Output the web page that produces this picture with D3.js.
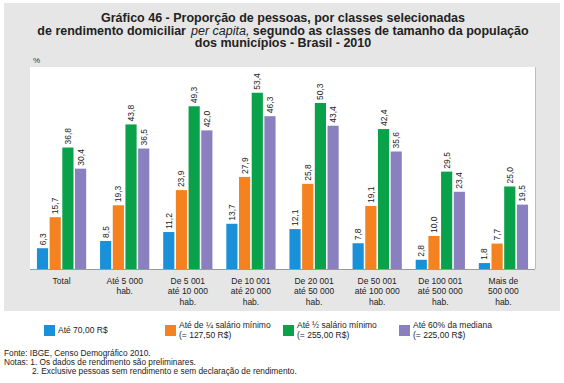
<!DOCTYPE html>
<html><head><meta charset="utf-8">
<script src="https://cdn.jsdelivr.net/npm/d3@7"></script>
<style>body{margin:0;background:#fff}svg{display:block}</style>
</head><body>
<script>
const categories = [
  ["Total"],
  ["Até 5 000", "hab."],
  ["De 5 001", "até 10 000", "hab."],
  ["De 10 001", "até 20 000", "hab."],
  ["De 20 001", "até 50 000", "hab."],
  ["De 50 001", "até 100 000", "hab."],
  ["De 100 001", "até 500 000", "hab."],
  ["Mais de", "500 000", "hab."]
];
const seriesNames = [
  ["Até 70,00 R$"],
  ["Até de ¼ salário mínimo", "(= 127,50 R$)"],
  ["Até ½ salário mínimo", "(= 255,00 R$)"],
  ["Até 60% da mediana", "(= 225,00 R$)"]
];
const ate70 = [6.3, 8.5, 11.2, 13.7, 12.1, 7.8, 2.8, 1.8];
const quartoSM = [15.7, 19.3, 23.9, 27.9, 25.8, 19.1, 10.0, 7.7];
const meioSM = [36.8, 43.8, 49.3, 53.4, 50.3, 42.4, 29.5, 25.0];
const mediana60 = [30.4, 36.5, 42.0, 46.3, 43.4, 35.6, 23.4, 19.5];
const series = [ate70, quartoSM, meioSM, mediana60];
const colors = ["#1a90d8", "#f58220", "#0aa14b", "#8b80bf"];
const titleLines = ["Gráfico 46 - Proporção de pessoas, por classes selecionadas",
  ["de rendimento domiciliar", "per capita,", "segundo as classes de tamanho da população"],
  "dos municípios - Brasil - 2010"];
const notes = ["Fonte: IBGE, Censo Demográfico 2010.",
  "Notas: 1. Os dados de rendimento são preliminares.",
  "2. Exclusive pessoas sem rendimento e sem declaração de rendimento."];

const W = 564, H = 383;
const font = "'Liberation Sans', Arial, sans-serif";
const svg = d3.select("body").append("svg").attr("width", W).attr("height", H)
  .style("font-family", font);

svg.append("rect").attr("x", 4).attr("y", 3).attr("width", 556).attr("height", 308).attr("fill", "#e6e6e6");

const plot = {l: 30, r: 535, t: 67, b: 269};
svg.append("rect").attr("x", plot.l).attr("y", plot.t).attr("width", plot.r - plot.l).attr("height", plot.b - plot.t)
  .attr("fill", "#fff");
svg.append("line").attr("x1", plot.r + 0.5).attr("x2", plot.r + 0.5).attr("y1", plot.t).attr("y2", plot.b)
  .attr("stroke", "#bdbdbd");

// title
const t = svg.append("g").attr("font-weight", "bold").attr("font-size", 12.5).attr("fill", "#222");
t.append("text").attr("x", 283).attr("y", 22).attr("text-anchor", "middle").text(titleLines[0]);
const parts = titleLines[1].map((s, i) => {
  const e = t.append("text").attr("y", 35).text(s);
  if (i === 1) e.attr("font-style", "italic").attr("font-weight", "normal");
  return e;
});
const gaps = [5, 3.5];
const widths = parts.map(p => p.node().getComputedTextLength());
let cur = 283 - (d3.sum(widths) + d3.sum(gaps)) / 2;
parts.forEach((p, i) => { p.attr("x", cur); cur += widths[i] + (gaps[i] || 0); });
t.append("text").attr("x", 283).attr("y", 47).attr("text-anchor", "middle").text(titleLines[2]);
svg.append("text").attr("x", 33).attr("y", 63).attr("font-size", 8).attr("fill", "#333").text("%");

const x0 = d3.scaleBand().domain(d3.range(categories.length)).range([plot.l, plot.r]).paddingInner(0.22).paddingOuter(0.11);
const x1 = d3.scaleBand().domain(d3.range(series.length)).range([0, x0.bandwidth()]).paddingInner(0.12);
const y = d3.scaleLinear().domain([0, 61.2]).range([plot.b, plot.t]);

const g = svg.append("g");
series.forEach((vals, si) => {
  vals.forEach((v, ci) => {
    const bx = x0(ci) + x1(si);
    g.append("rect").attr("x", bx).attr("y", y(v)).attr("width", x1.bandwidth()).attr("height", y(0) - y(v))
      .attr("fill", colors[si]);
    const cx = bx + x1.bandwidth() / 2;
    g.append("text").attr("transform", `translate(${cx + 3},${y(v) - 3}) rotate(-90)`)
      .attr("font-size", 8.5).attr("fill", "#222").text(d3.format(".1f")(v).replace(".", ","));
  });
});

svg.append("line").attr("x1", plot.l).attr("x2", plot.r).attr("y1", plot.b + 0.5).attr("y2", plot.b + 0.5)
  .attr("stroke", "#9a9a9a");

// category labels
categories.forEach((lines, ci) => {
  const cx = x0(ci) + x0.bandwidth() / 2;
  const tx = svg.append("text").attr("text-anchor", "middle").attr("font-size", 8.5).attr("fill", "#222");
  lines.forEach((ln, i) => tx.append("tspan").attr("x", cx).attr("y", 283.5 + i * 10.7).text(ln));
});

// legend
const legX = [44, 165, 283, 399];
seriesNames.forEach((lines, si) => {
  svg.append("rect").attr("x", legX[si]).attr("y", 325).attr("width", 11).attr("height", 11).attr("fill", colors[si]);
  const tx = svg.append("text").attr("font-size", 8.5).attr("fill", "#222");
  if (lines.length === 1) {
    tx.append("tspan").attr("x", legX[si] + 14).attr("y", 333).text(lines[0]);
  } else {
    lines.forEach((ln, i) => tx.append("tspan").attr("x", legX[si] + 14).attr("y", 327.5 + i * 10).text(ln));
  }
});

// notes
const nx = [4, 4, 32];
notes.forEach((n, i) => {
  svg.append("text").attr("x", nx[i]).attr("y", 356 + i * 9.2).attr("font-size", 8.3).attr("fill", "#222").text(n);
});
</script>
</body></html>
